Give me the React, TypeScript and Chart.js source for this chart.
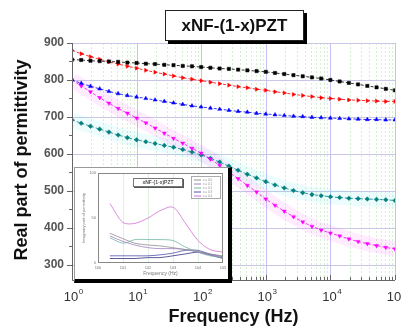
import React, { useEffect, useRef } from 'react';
import { Chart, registerables } from 'chart.js';
Chart.register(...registerables);

// ---------- main chart data ----------
const frequencies = [
  1, 1.389, 1.931, 2.683, 3.728, 5.179, 7.197,
  10, 13.89, 19.31, 26.83, 37.28, 51.79, 71.97,
  100, 138.9, 193.1, 268.3, 372.8, 517.9, 719.7,
  1000, 1389, 1931, 2683, 3728, 5179, 7197,
  10000, 13895, 19307, 26827, 37276, 51795, 71969,
  100000,
];
const seriesBlack = [
  855, 854, 852, 851, 850, 849, 847, 846, 844, 843, 841, 840, 838, 837, 835,
  833, 831, 830, 828, 826, 824, 822, 819, 816, 813, 810, 807, 804, 800,
  796, 792, 788, 784, 780, 776, 772,
];
const seriesRed = [
  880, 871, 863, 856, 849, 843, 837, 832, 826, 821, 816, 811, 806, 802, 798,
  794, 790, 786, 782, 779, 775, 772, 768, 765, 761, 758, 755, 752, 750,
  748, 746, 745, 744, 743, 742, 742,
];
const seriesBlue = [
  800, 791, 783, 776, 769, 763, 758, 754, 750, 746, 742, 738, 734, 730, 727,
  724, 721, 718, 715, 713, 710, 708, 706, 704, 702, 701, 699, 698, 697,
  696, 695, 694, 693, 693, 692, 692,
];
const seriesMagenta = [
  800, 784, 768, 752, 737, 723, 710, 697, 684, 670, 656, 642, 629, 615, 602,
  586, 569, 551, 533, 515, 497, 478, 461, 445, 430, 416, 404, 394, 386,
  378, 370, 363, 357, 352, 347, 343,
];
const seriesTeal = [
  692, 683, 675, 667, 659, 651, 644, 638, 633, 628, 623, 618, 612, 605, 597,
  588, 578, 567, 556, 545, 535, 525, 516, 508, 501, 495, 490, 487, 484,
  482, 480, 479, 478, 477, 476, 474,
];
const seriesNames = ['x = 0.0', 'x = 0.1', 'x = 0.2', 'x = 0.3', 'x = 0.4'];
const yTickValues = [300, 400, 500, 600, 700, 800, 900];
const xTickExponents = [0, 1, 2, 3, 4, 5];
const titleText = 'xNF-(1-x)PZT';
const xTitle = 'Frequency (Hz)';
const yTitle = 'Real part of permittivity';

// ---------- inset data ----------
const insetFrequencies = [3, 10, 30, 100, 300, 1000, 3000, 10000, 30000, 100000];
const insetPink = [66, 45, 44, 50, 58, 62, 45, 25, 15, 12];
const insetGray = [33, 27, 22, 20, 19, 17, 15, 13, 10, 8];
const insetPurple = [30, 24, 20, 17, 16, 16, 15, 12, 9, 6];
const insetTeal = [28, 22, 26, 26, 26, 25, 18, 12, 8, 6];
const insetBlue = [8, 8, 8, 8, 9, 11, 14, 14, 10, 7];
const insetNavy = [5, 5, 5, 6, 6, 8, 10, 12, 9, 5];
const insetYTicks = [0, 50, 100];
const insetYTitle = 'Imaginary part of permittivity';

function pts(xs: number[], ys: number[]) {
  return xs.map((x, i) => ({ x, y: ys[i] }));
}

function drawPow(ctx: CanvasRenderingContext2D, cx: number, y: number, exp: number, size: number, color: string) {
  ctx.save();
  ctx.fillStyle = color;
  ctx.textBaseline = 'middle';
  ctx.textAlign = 'left';
  ctx.font = `${size}px Arial`;
  const w = ctx.measureText('10').width;
  const left = cx - w / 2 - 1;
  ctx.fillText('10', left, y);
  ctx.font = `${Math.round(size * 0.6)}px Arial`;
  ctx.fillText(String(exp), left + w + 0.5, y - size * 0.38);
  ctx.restore();
}

const mainDecor = {
  id: 'mainDecor',
  beforeDatasetsDraw(chart: any) {
    const { ctx, chartArea: a, scales } = chart;
    const xs = scales.x, ys = scales.y;
    ctx.save();
    ctx.lineWidth = 1;
    ctx.strokeStyle = '#d6f0d6';
    ctx.setLineDash([2, 2]);
    for (let d = 0; d < 5; d++) {
      for (let m = 2; m <= 9; m++) {
        const x = Math.round(xs.getPixelForValue(m * Math.pow(10, d))) + 0.5;
        ctx.beginPath(); ctx.moveTo(x, a.top); ctx.lineTo(x, a.bottom); ctx.stroke();
      }
    }
    ctx.setLineDash([]);
    ctx.strokeStyle = '#c2c2f2';
    xTickExponents.forEach((e) => {
      const x = Math.round(xs.getPixelForValue(Math.pow(10, e))) + 0.5;
      ctx.beginPath(); ctx.moveTo(x, a.top); ctx.lineTo(x, a.bottom); ctx.stroke();
    });
    ctx.strokeStyle = '#c8c8e6';
    yTickValues.forEach((v) => {
      const y = Math.round(ys.getPixelForValue(v)) + 0.5;
      ctx.beginPath(); ctx.moveTo(a.left, y); ctx.lineTo(a.right, y); ctx.stroke();
    });
    ctx.restore();
  },
  afterDraw(chart: any) {
    const { ctx, chartArea: a, scales } = chart;
    const xs = scales.x, ys = scales.y;
    ctx.save();
    ctx.strokeStyle = '#666';
    ctx.lineWidth = 1;
    ctx.beginPath();
    ctx.moveTo(a.left + 0.5, a.top); ctx.lineTo(a.left + 0.5, a.bottom + 0.5);
    ctx.lineTo(a.right, a.bottom + 0.5);
    ctx.stroke();
    for (let v = 300; v <= 900; v += 50) {
      const y = Math.round(ys.getPixelForValue(v)) + 0.5;
      const len = v % 100 === 0 ? 5 : 3;
      ctx.beginPath(); ctx.moveTo(a.left - len, y); ctx.lineTo(a.left, y); ctx.stroke();
    }
    for (let d = 0; d <= 5; d++) {
      for (let m = 1; m <= 9; m++) {
        const v = m * Math.pow(10, d);
        if (v > 100000) break;
        const x = Math.round(xs.getPixelForValue(v)) + 0.5;
        const len = m === 1 ? 5 : 3;
        ctx.beginPath(); ctx.moveTo(x, a.bottom); ctx.lineTo(x, a.bottom - len); ctx.stroke();
      }
    }
    ctx.fillStyle = '#555';
    ctx.font = 'bold 12px Arial';
    ctx.textAlign = 'right';
    ctx.textBaseline = 'middle';
    yTickValues.forEach((v) => {
      ctx.fillText(String(v), a.left - 8, ys.getPixelForValue(v));
    });
    xTickExponents.forEach((e) => {
      drawPow(ctx, xs.getPixelForValue(Math.pow(10, e)), a.bottom + 17, e, 13, '#333');
    });
    ctx.fillStyle = '#111';
    ctx.font = 'bold 18px Arial';
    ctx.textAlign = 'center';
    ctx.textBaseline = 'alphabetic';
    ctx.fillText(xTitle, (a.left + a.right) / 2, 322);
    ctx.save();
    ctx.translate(27, 160);
    ctx.rotate(-Math.PI / 2);
    ctx.fillText(yTitle, 0, 0);
    ctx.restore();
    const bx = 165, by = 10, bw = 139, bh = 31;
    ctx.fillStyle = '#000';
    ctx.fillRect(bx + 3, by + 3, bw, bh);
    ctx.fillStyle = '#fff';
    ctx.fillRect(bx, by, bw, bh);
    ctx.strokeStyle = '#222';
    ctx.lineWidth = 1;
    ctx.strokeRect(bx + 0.5, by + 0.5, bw - 1, bh - 1);
    ctx.fillStyle = '#111';
    ctx.font = 'bold 17px Arial';
    ctx.textAlign = 'center';
    ctx.textBaseline = 'middle';
    ctx.fillText(titleText, bx + bw / 2, by + bh / 2 + 1);
    ctx.restore();
  },
};

const insetDecor = {
  id: 'insetDecor',
  beforeDatasetsDraw(chart: any) {
    const { ctx, chartArea: a, scales } = chart;
    const xs = scales.x;
    ctx.save();
    ctx.strokeStyle = '#e0f0e0';
    ctx.lineWidth = 1;
    for (let e = 1; e < 5; e++) {
      const x = Math.round(xs.getPixelForValue(Math.pow(10, e))) + 0.5;
      ctx.beginPath(); ctx.moveTo(x, a.top); ctx.lineTo(x, a.bottom); ctx.stroke();
    }
    ctx.restore();
  },
  afterDraw(chart: any) {
    const { ctx, chartArea: a, scales } = chart;
    const xs = scales.x, ys = scales.y;
    ctx.save();
    ctx.strokeStyle = '#888';
    ctx.lineWidth = 1;
    ctx.strokeRect(a.left + 0.5, a.top + 0.5, a.right - a.left - 1, a.bottom - a.top - 1);
    ctx.fillStyle = '#777';
    ctx.font = '4px Arial';
    ctx.textAlign = 'center';
    ctx.textBaseline = 'top';
    for (let e = 0; e <= 5; e++) {
      const x = xs.getPixelForValue(Math.pow(10, e));
      ctx.fillText('10' + e, x, a.bottom + 3);
    }
    ctx.textAlign = 'right';
    ctx.textBaseline = 'middle';
    insetYTicks.forEach((v) => ctx.fillText(String(v), a.left - 2, ys.getPixelForValue(v)));
    ctx.textAlign = 'center';
    ctx.font = '5px Arial';
    ctx.fillText(xTitle, (a.left + a.right) / 2, a.bottom + 11);
    ctx.save();
    ctx.translate(9, (a.top + a.bottom) / 2);
    ctx.rotate(-Math.PI / 2);
    ctx.font = '4px Arial';
    ctx.fillText(insetYTitle, 0, 0);
    ctx.restore();
    ctx.fillStyle = '#555';
    ctx.fillRect(59, 11, 50, 9);
    ctx.fillStyle = '#fff';
    ctx.fillRect(58, 10, 50, 9);
    ctx.strokeStyle = '#777';
    ctx.strokeRect(58.5, 10.5, 49, 8);
    ctx.fillStyle = '#555';
    ctx.font = 'bold 5px Arial';
    ctx.fillText(titleText, 83, 15);
    ctx.fillStyle = '#fff';
    ctx.fillRect(116, 8, 30, 23);
    ctx.strokeStyle = '#aaa';
    ctx.strokeRect(116.5, 8.5, 29, 22);
    const cols = ['#909090', '#a080c0', '#70b8a8', '#5050b0', '#d070d0'];
    ctx.font = '3px Arial';
    ctx.textAlign = 'left';
    cols.forEach((c, i) => {
      const y = 12 + i * 4;
      ctx.strokeStyle = c;
      ctx.beginPath(); ctx.moveTo(119, y); ctx.lineTo(126, y); ctx.stroke();
      ctx.fillStyle = '#888';
      ctx.fillText(seriesNames[i], 128, y);
    });
    ctx.restore();
  },
};

export default function App() {
  const mainRef = useRef<HTMLCanvasElement>(null);
  const insetRef = useRef<HTMLCanvasElement>(null);

  useEffect(() => {
    const mk = (label: string, data: number[], color: string, style: string, rotation: number) => ({
      label,
      data: pts(frequencies, data),
      borderColor: color,
      backgroundColor: color,
      borderWidth: 0.8,
      borderDash: [3, 2],
      pointStyle: style,
      pointRotation: rotation,
      pointRadius: 2.3,
      pointBorderWidth: 0.5,
      pointBackgroundColor: color,
      pointBorderColor: color,
      order: 0,
    });
    const band = (data: number[], color: string) => ({
      label: 'band',
      data: pts(frequencies, data),
      borderColor: color,
      borderWidth: 15,
      pointRadius: 0,
      order: 10,
    });
    const main = new Chart(mainRef.current!, {
      type: 'line',
      data: {
        datasets: [
          mk(seriesNames[0], seriesBlack, '#000000', 'rect', 0),
          mk(seriesNames[1], seriesRed, '#ff0000', 'triangle', 90),
          mk(seriesNames[2], seriesBlue, '#0000ff', 'triangle', 0),
          mk(seriesNames[3], seriesMagenta, '#ff00ff', 'triangle', 180),
          mk(seriesNames[4], seriesTeal, '#008080', 'rectRot', 0),
          band(seriesMagenta, 'rgba(255,0,255,0.07)'),
          band(seriesTeal, 'rgba(0,220,220,0.07)'),
        ] as any,
      },
      options: {
        animation: false,
        responsive: false,
        layout: { padding: { left: 72, right: 6, top: 43, bottom: 50 } },
        scales: {
          x: { type: 'logarithmic', min: 1, max: 100000, display: false },
          y: { type: 'linear', min: 259, max: 900, display: false },
        },
        plugins: { legend: { display: false }, tooltip: { enabled: false } },
      } as any,
      plugins: [mainDecor],
    });

    const ln = (data: number[], color: string) => ({
      data: pts(insetFrequencies, data),
      borderColor: color,
      borderWidth: 0.8,
      pointRadius: 0,
      tension: 0.3,
    });
    const inset = new Chart(insetRef.current!, {
      type: 'line',
      data: {
        datasets: [
          ln(insetPink, '#d070d0'),
          ln(insetGray, '#909090'),
          ln(insetPurple, '#a080c0'),
          ln(insetTeal, '#70b8a8'),
          ln(insetBlue, '#5050b0'),
          ln(insetNavy, '#303080'),
        ] as any,
      },
      options: {
        animation: false,
        responsive: false,
        layout: { padding: { left: 23, right: 5, top: 5, bottom: 16 } },
        scales: {
          x: { type: 'logarithmic', min: 1, max: 100000, display: false },
          y: { type: 'linear', min: 0, max: 100, display: false },
        },
        plugins: { legend: { display: false }, tooltip: { enabled: false } },
      } as any,
      plugins: [insetDecor],
    });
    return () => {
      main.destroy();
      inset.destroy();
    };
  }, []);

  return (
    <div style={{ position: 'absolute', left: 0, top: 0, width: 401, height: 330, background: '#fff' }}>
      <canvas ref={mainRef} width={401} height={330} style={{ position: 'absolute', left: 0, top: 0, width: 401, height: 330 }} />
      <div
        style={{
          position: 'absolute',
          left: 74,
          top: 167,
          width: 153,
          height: 111,
          background: '#fff',
          borderTop: '1px solid #999',
          borderLeft: '1px solid #999',
          borderRight: '4px solid #000',
          borderBottom: '4px solid #000',
          boxSizing: 'content-box',
        }}
      >
        <canvas ref={insetRef} width={153} height={111} style={{ display: 'block', width: 153, height: 111 }} />
      </div>
    </div>
  );
}
